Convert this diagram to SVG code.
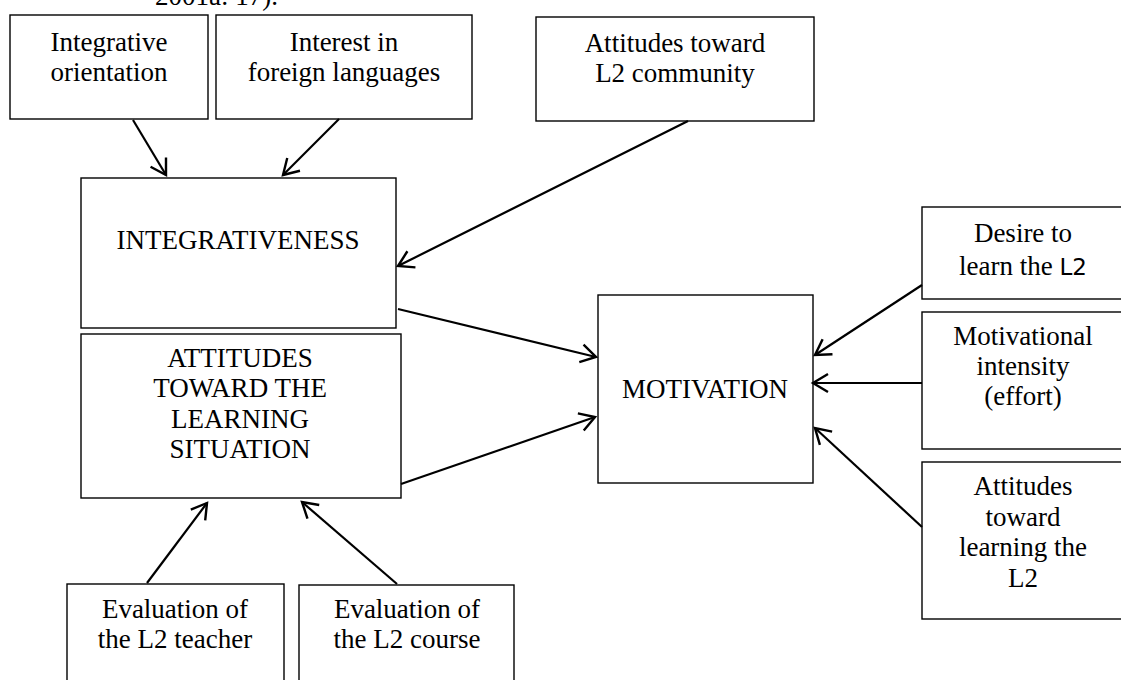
<svg xmlns="http://www.w3.org/2000/svg" width="1121" height="680" viewBox="0 0 1121 680">
<style>
.box{fill:#fff;stroke:#000;stroke-width:1.4}
.t{font-family:"Liberation Serif","Times New Roman",serif;font-size:27px;fill:#000;text-anchor:middle}
.c{fill:none;stroke:#000;stroke-width:2.2}
.sans{font-family:"DejaVu Sans",sans-serif;font-size:23px}
</style>
<defs>
<marker id="ah" markerUnits="userSpaceOnUse" markerWidth="20" markerHeight="20" refX="17" refY="9" orient="auto" overflow="visible">
<path d="M2,0 L17,9 L2,18" fill="none" stroke="#000" stroke-width="2.4"/>
</marker>
</defs>
<rect width="1121" height="680" fill="#fff"/>
<text class="t" x="155" y="5" style="text-anchor:start">2001a: 17).</text>
<g id="n-integrative-orientation">
<rect class="box" x="10" y="15" width="198" height="104"/>
<text class="t" x="109" y="51">Integrative</text>
<text class="t" x="109" y="81">orientation</text>
</g>
<g id="n-interest">
<rect class="box" x="216" y="15" width="256" height="104"/>
<text class="t" x="344" y="51">Interest in</text>
<text class="t" x="344" y="81">foreign languages</text>
</g>
<g id="n-attitudes-community">
<rect class="box" x="536" y="17" width="278" height="104"/>
<text class="t" x="675" y="52">Attitudes toward</text>
<text class="t" x="675" y="82">L2 community</text>
</g>
<g id="n-integrativeness">
<rect class="box" x="81" y="178" width="315" height="150"/>
<text class="t" x="238" y="249">INTEGRATIVENESS</text>
</g>
<g id="n-attitudes-learning-situation">
<rect class="box" x="81" y="334" width="320" height="164"/>
<text class="t" x="240" y="367">ATTITUDES</text>
<text class="t" x="240" y="397">TOWARD THE</text>
<text class="t" x="240" y="428">LEARNING</text>
<text class="t" x="240" y="458">SITUATION</text>
</g>
<g id="n-motivation">
<rect class="box" x="598" y="295" width="215" height="188"/>
<text class="t" x="705" y="398">MOTIVATION</text>
</g>
<g id="n-desire">
<rect class="box" x="922" y="207" width="204" height="92"/>
<text class="t" x="1023" y="242">Desire to</text>
<text class="t" x="1023" y="275">learn the <tspan class="sans">L2</tspan></text>
</g>
<g id="n-intensity">
<rect class="box" x="922" y="312" width="204" height="137"/>
<text class="t" x="1023" y="345">Motivational</text>
<text class="t" x="1023" y="375">intensity</text>
<text class="t" x="1023" y="405">(effort)</text>
</g>
<g id="n-attitudes-learning-l2">
<rect class="box" x="922" y="462" width="204" height="157"/>
<text class="t" x="1023" y="495">Attitudes</text>
<text class="t" x="1023" y="526">toward</text>
<text class="t" x="1023" y="556">learning the</text>
<text class="t" x="1023" y="587">L2</text>
</g>
<g id="n-teacher">
<rect class="box" x="67" y="584" width="217" height="110"/>
<text class="t" x="175" y="618">Evaluation of</text>
<text class="t" x="175" y="648">the L2 teacher</text>
</g>
<g id="n-course">
<rect class="box" x="299" y="585" width="215" height="110"/>
<text class="t" x="407" y="618">Evaluation of</text>
<text class="t" x="407" y="648">the L2 course</text>
</g>
<g id="connectors">
<line class="c" x1="133" y1="120" x2="166" y2="175" marker-end="url(#ah)"/>
<line class="c" x1="339" y1="119" x2="283" y2="175" marker-end="url(#ah)"/>
<line class="c" x1="688" y1="121" x2="398" y2="266" marker-end="url(#ah)"/>
<line class="c" x1="398" y1="309" x2="596" y2="357" marker-end="url(#ah)"/>
<line class="c" x1="401" y1="484" x2="595" y2="417" marker-end="url(#ah)"/>
<line class="c" x1="922" y1="285" x2="815" y2="355" marker-end="url(#ah)"/>
<line class="c" x1="922" y1="383" x2="813" y2="383" marker-end="url(#ah)"/>
<line class="c" x1="922" y1="527" x2="815" y2="428" marker-end="url(#ah)"/>
<line class="c" x1="147" y1="583" x2="207" y2="503" marker-end="url(#ah)"/>
<line class="c" x1="397" y1="584" x2="302" y2="502" marker-end="url(#ah)"/>
</g>
</svg>
